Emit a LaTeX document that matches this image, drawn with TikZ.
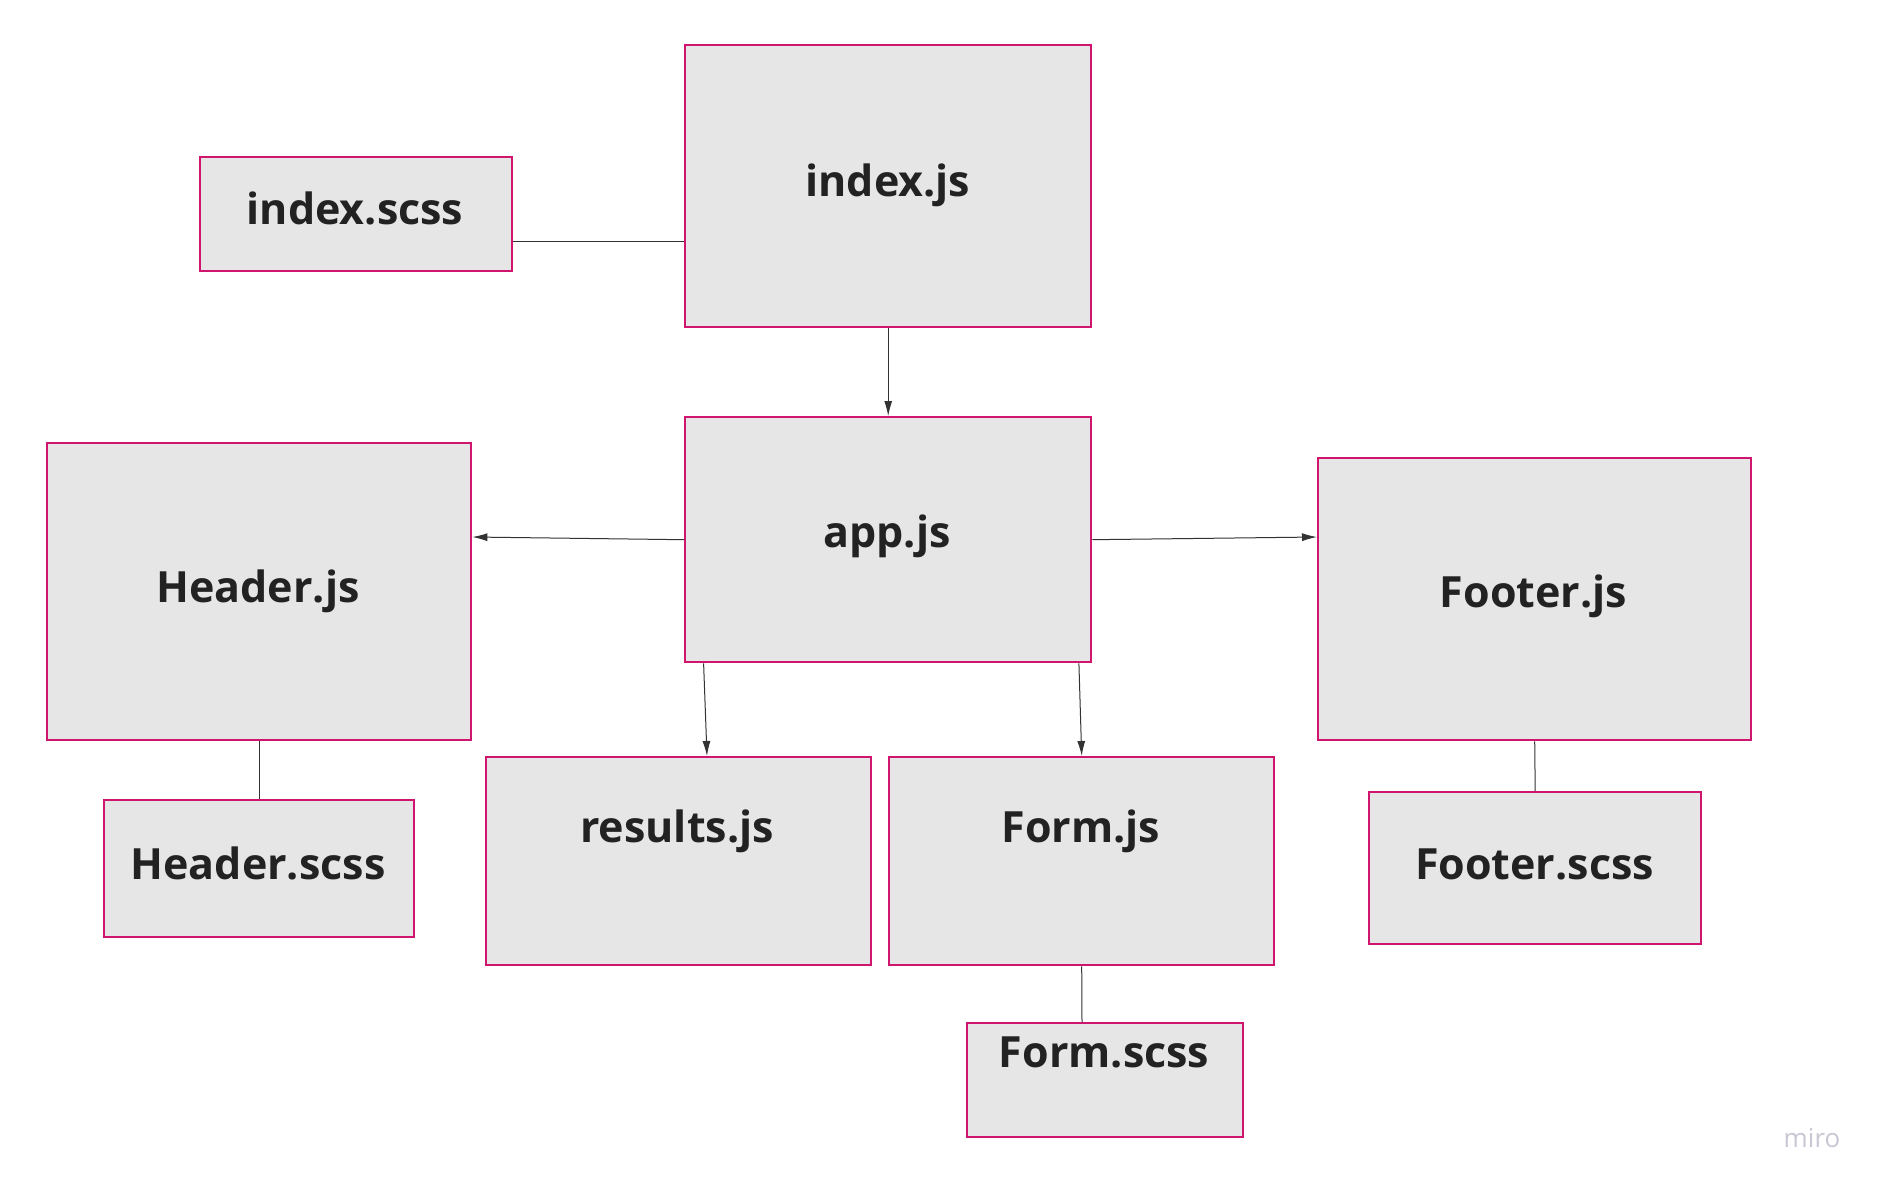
\documentclass[tikz,border=0pt]{standalone}
\usepackage{fontspec}
\setmainfont{Open Sans}
\usetikzlibrary{calc,arrows.meta}
\definecolor{boxborder}{HTML}{D0156E}
\definecolor{boxfill}{HTML}{E6E6E6}
\definecolor{txt}{HTML}{222222}
\definecolor{wline}{HTML}{333333}
\definecolor{mirocol}{HTML}{C8C8D4}
\tikzset{
  filebox/.style={draw=boxborder, fill=boxfill, line width=2.4pt, inner sep=0pt, anchor=north west, rectangle},
  lbl/.style={anchor=base, inner sep=0pt, text=txt, font=\fontsize{43}{50}\selectfont\bfseries},
  conn/.style={draw=wline, line width=1pt},
  arr/.style={conn, -{Latex[length=15pt,width=8pt]}}
}
\begin{document}
\begin{tikzpicture}[x=1pt,y=-1pt]
\useasboundingbox[fill=white] (0,0) rectangle (1886,1192);
% boxes
\node[filebox, minimum width=406, minimum height=282] (idxjs) at (684,44) {};
\node[filebox, minimum width=312.5, minimum height=114] (idxscss) at (198.5,156) {};
\node[filebox, minimum width=406, minimum height=245] (app) at (684,416) {};
\node[filebox, minimum width=424, minimum height=297] (header) at (46,442) {};
\node[filebox, minimum width=433, minimum height=282] (footer) at (1317,457) {};
\node[filebox, minimum width=310, minimum height=137] (headerscss) at (103,799) {};
\node[filebox, minimum width=385, minimum height=208] (results) at (485,756) {};
\node[filebox, minimum width=385, minimum height=208] (form) at (888,756) {};
\node[filebox, minimum width=276, minimum height=114] (formscss) at (966,1022) {};
\node[filebox, minimum width=332, minimum height=152] (footerscss) at (1368,791) {};
% labels
\node[lbl] (tidxjs) at (888,196.5) {index.js};
\node[lbl] (tidxscss) at (355,224) {index.scss};
\node[lbl] (tapp) at (887,547) {app.js};
\node[lbl] (theader) at (258,602) {Header.js};
\node[lbl] (tfooter) at (1533.5,607) {Footer.js};
\node[lbl] (theaderscss) at (258,879) {Header.scss};
\node[lbl] (tfooterscss) at (1534.5,879) {Footer.scss};
\node[lbl] (tresults) at (677,842) {results.js};
\node[lbl] (tform) at (1081,842) {Form.js};
\node[lbl] (tformscss) at (1104,1067) {Form.scss};
\node[anchor=base, inner sep=0pt, text=mirocol, font=\fontsize{26}{30}\selectfont] (miro) at (1812,1147) {miro};
% connectors
\draw[conn] (idxscss.east |- 0,241) -- (idxjs.west |- 0,241);
\draw[arr] (idxjs.south) -- (app.north);
\draw[arr] (app.west) -- (header.east |- 0,537);
\draw[arr] (app.east) -- (footer.west |- 0,537);
\draw[arr] ($(app.south west)+(19.6,0)$) -- ($(results.north west)+(222,0)$);
\draw[arr] ($(app.south east)+(-13.5,0)$) -- (form.north);
\draw[conn] (header.south) -- (headerscss.north);
\draw[conn] (form.south) -- ($(formscss.north west)+(116,0)$);
\draw[conn] (footer.south) -- (footerscss.north);
\end{tikzpicture}
\end{document}
